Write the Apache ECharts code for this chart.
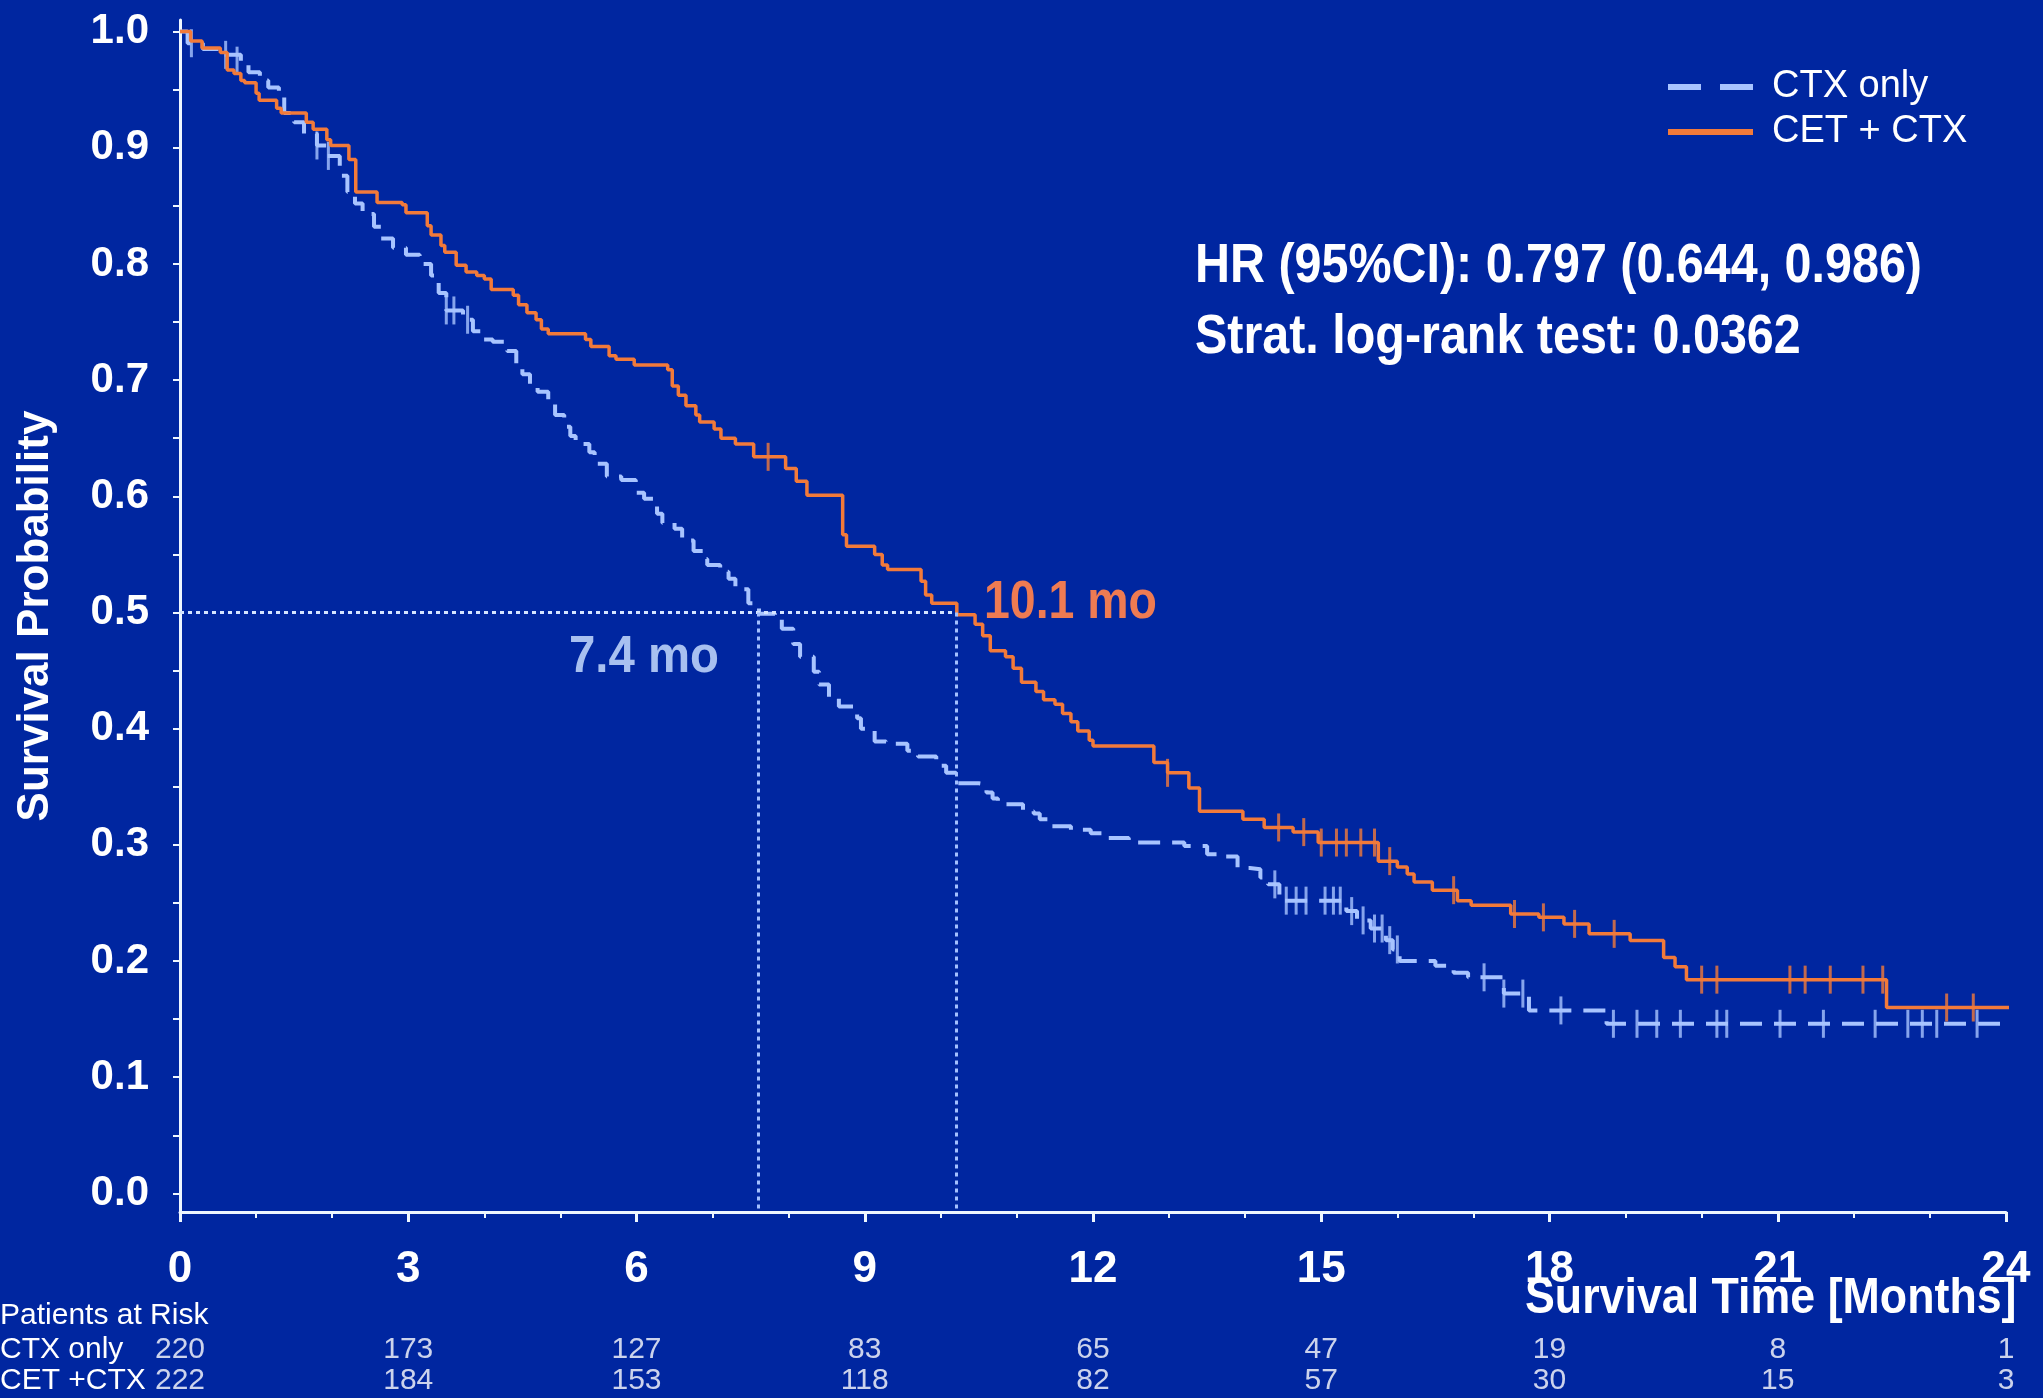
<!DOCTYPE html>
<html>
<head>
<meta charset="utf-8">
<script src="https://cdn.jsdelivr.net/npm/echarts@6/dist/echarts.min.js"></script>
<style>
html,body{margin:0;padding:0;background:#0026a0;}
#chart{width:2043px;height:1398px;}
</style>
</head>
<body>
<div id="chart"></div>
<script>
// ---------- data ----------
const xTickValues = [0, 3, 6, 9, 12, 15, 18, 21, 24];
const yTickValues = [0, 0.1, 0.2, 0.3, 0.4, 0.5, 0.6, 0.7, 0.8, 0.9, 1.0];
const yMinorTickValues = [0.05, 0.15, 0.25, 0.35, 0.45, 0.55, 0.65, 0.75, 0.85, 0.95];

const seriesNames = ['CTX only', 'CET + CTX'];

// [month, survival probability after the step]
const ctxOnlySteps = [
  [0,1.0],[0.1,0.99],[0.3,0.985],[0.57,0.98],[0.8,0.972],[0.9,0.965],[1.05,0.958],[1.16,0.952],
  [1.3,0.945],[1.37,0.93],[1.5,0.922],[1.63,0.912],[1.8,0.902],[1.93,0.893],[2.1,0.876],[2.2,0.862],
  [2.3,0.852],[2.4,0.843],[2.55,0.832],[2.64,0.822],[2.8,0.814],[2.97,0.808],[3.15,0.8],[3.3,0.79],
  [3.4,0.775],[3.5,0.76],[3.72,0.752],[3.85,0.742],[3.97,0.735],[4.11,0.733],[4.3,0.725],[4.42,0.713],
  [4.5,0.705],[4.6,0.697],[4.7,0.69],[4.84,0.68],[4.93,0.67],[5.05,0.66],[5.13,0.652],[5.2,0.645],
  [5.38,0.638],[5.45,0.628],[5.61,0.617],[5.8,0.614],[5.99,0.603],[6.1,0.598],[6.27,0.585],[6.34,0.577],
  [6.5,0.572],[6.6,0.562],[6.75,0.553],[6.88,0.546],[6.93,0.541],[7.1,0.535],[7.21,0.529],[7.3,0.52],
  [7.47,0.508],[7.61,0.499],[7.82,0.494],[7.91,0.486],[8.06,0.473],[8.15,0.462],[8.33,0.449],[8.4,0.438],
  [8.53,0.426],[8.66,0.419],[8.9,0.409],[8.95,0.4],[9.13,0.389],[9.28,0.387],[9.56,0.381],[9.7,0.376],
  [9.94,0.368],[10.07,0.362],[10.2,0.353],[10.5,0.352],[10.6,0.345],[10.68,0.34],[10.75,0.335],[11.08,0.329],
  [11.22,0.327],[11.3,0.322],[11.46,0.316],[11.71,0.313],[11.97,0.31],[12.12,0.306],[12.47,0.302],[13.2,0.299],
  [13.5,0.292],[13.7,0.29],[13.9,0.28],[14.06,0.279],[14.2,0.272],[14.3,0.266],[14.45,0.252],[15.33,0.243],
  [15.47,0.235],[15.65,0.228],[15.85,0.218],[15.94,0.21],[16.03,0.2],[16.5,0.196],[16.74,0.19],[16.93,0.186],
  [17.4,0.172],[17.73,0.1575],[18.75,0.146],[24.1,0.146]
];
const cetCtxSteps = [
  [0,1.0],[0.14,0.992],[0.29,0.986],[0.53,0.982],[0.62,0.967],[0.71,0.964],[0.8,0.958],[0.85,0.956],
  [1.0,0.947],[1.04,0.941],[1.27,0.934],[1.33,0.93],[1.66,0.922],[1.75,0.916],[1.93,0.907],[1.98,0.902],
  [2.22,0.89],[2.31,0.862],[2.59,0.853],[2.92,0.851],[2.97,0.844],[3.25,0.833],[3.3,0.825],[3.43,0.816],
  [3.48,0.81],[3.63,0.799],[3.76,0.793],[3.9,0.79],[4.0,0.787],[4.09,0.778],[4.38,0.773],[4.45,0.765],
  [4.56,0.758],[4.68,0.752],[4.75,0.744],[4.84,0.74],[5.33,0.735],[5.4,0.729],[5.64,0.721],[5.73,0.718],
  [5.97,0.713],[6.41,0.709],[6.47,0.695],[6.55,0.687],[6.65,0.678],[6.78,0.67],[6.83,0.664],[7.02,0.658],
  [7.11,0.65],[7.3,0.645],[7.54,0.634],[7.96,0.624],[8.1,0.613],[8.24,0.601],[8.71,0.567],[8.76,0.557],
  [9.13,0.55],[9.23,0.541],[9.3,0.537],[9.74,0.527],[9.8,0.515],[9.88,0.508],[10.21,0.498],[10.45,0.49],
  [10.55,0.48],[10.65,0.467],[10.85,0.462],[10.95,0.452],[11.06,0.44],[11.25,0.432],[11.35,0.425],[11.5,0.421],
  [11.6,0.413],[11.71,0.406],[11.8,0.398],[11.95,0.39],[12.0,0.385],[12.8,0.371],[12.98,0.362],[13.26,0.349],
  [13.4,0.329],[13.97,0.322],[14.25,0.315],[14.63,0.311],[14.96,0.302],[15.75,0.286],[16.0,0.281],[16.13,0.275],
  [16.22,0.268],[16.46,0.261],[16.79,0.252],[16.97,0.248],[17.49,0.2405],[17.86,0.2376],[18.19,0.232],[18.52,0.2234],
  [19.06,0.2176],[19.5,0.203],[19.65,0.195],[19.8,0.184],[22.43,0.16],[24.14,0.16]
];
// censored observations [month, survival]
const ctxOnlyCensor = [
  [0.15,0.99],[0.6,0.98],[0.75,0.975],[1.8,0.902],[1.95,0.893],[3.5,0.76],[3.6,0.76],[3.78,0.752],
  [14.39,0.266],[14.54,0.252],[14.67,0.252],[14.8,0.252],[15.05,0.252],[15.16,0.252],[15.25,0.252],[15.4,0.243],
  [15.55,0.235],[15.7,0.228],[15.8,0.228],[15.9,0.218],[16.0,0.21],[17.14,0.186],[17.4,0.172],[17.65,0.172],
  [18.15,0.1575],[18.84,0.146],[19.15,0.146],[19.41,0.146],[19.72,0.146],[20.2,0.146],[20.33,0.146],[21.03,0.146],
  [21.6,0.146],[22.28,0.146],[22.71,0.146],[22.9,0.146],[23.09,0.146],[23.62,0.146],[24.1,0.146]
];
const cetCtxCensor = [
  [7.73,0.634],[12.98,0.362],[14.44,0.315],[14.77,0.311],[15.0,0.302],[15.2,0.302],[15.33,0.302],[15.52,0.302],
  [15.7,0.302],[15.9,0.286],[16.74,0.261],[17.54,0.2405],[17.92,0.2376],[18.33,0.232],[18.85,0.2234],
  [20.0,0.184],[20.2,0.184],[21.16,0.184],[21.36,0.184],[21.69,0.184],[22.12,0.184],[22.38,0.184],
  [23.22,0.16],[23.57,0.16],[24.1,0.16]
];
// median reference lines (drawn positions) and their labels
const medianTimes = [7.6, 10.2];
const medianLabels = ['7.4 mo', '10.1 mo'];
const medianLevel = 0.5;

// patients at risk
const atRiskTimes = [0, 3, 6, 9, 12, 15, 18, 21, 24];
const atRiskRows = ['CTX only', 'CET +CTX'];
const atRiskCtxOnly = [220, 173, 127, 83, 65, 47, 19, 8, 1];
const atRiskCetCtx = [222, 184, 153, 118, 82, 57, 30, 15, 3];

const hrText = 'HR (95%CI): 0.797 (0.644, 0.986)';
const pText = 'Strat. log-rank test: 0.0362';

// ---------- styling ----------
const FONT = "'Liberation Sans',Arial,sans-serif";
const BG = '#0026a0';
const AXIS = '#eef6ff';
const BLUE = '#a8c4ff';
const ORANGE = '#f27a3a';
const Y_MIN = -0.016;

const atRiskData = [];
atRiskTimes.forEach((t, i) => {
  atRiskData.push([t, atRiskRows[0], atRiskCtxOnly[i]]);
  atRiskData.push([t, atRiskRows[1], atRiskCetCtx[i]]);
});

const chart = echarts.init(document.getElementById('chart'), null, {renderer: 'canvas'});
const option = {
  backgroundColor: BG,
  animation: false,
  textStyle: {fontFamily: FONT},
  grid: [
    {left: 180, right: 37, top: 20, bottom: 186, outerBoundsMode: 'none', containLabel: false},
    {left: 180, right: 37, top: 1334, height: 62, outerBoundsMode: 'none', containLabel: false}
  ],
  legend: {
    data: [
      {name: seriesNames[0], itemStyle: {opacity: 0}, lineStyle: {color: BLUE, width: 6, type: [33, 19]}},
      {name: seriesNames[1], itemStyle: {opacity: 0}, lineStyle: {color: ORANGE, width: 6, type: 'solid'}}
    ],
    orient: 'vertical',
    left: 1660,
    top: 62,
    itemWidth: 85,
    itemHeight: 20,
    itemGap: 5,
    itemStyle: {opacity: 0},
    textStyle: {color: '#ffffff', fontSize: 38, lineHeight: 40, fontFamily: FONT, padding: [0, 0, 0, 14]}
  },
  xAxis: [
    {
      gridIndex: 0, type: 'value', min: 0, max: 24, interval: 3,
      axisLine: {show: true, onZero: false, lineStyle: {color: AXIS, width: 3}},
      axisTick: {show: true, length: 10, lineStyle: {color: AXIS, width: 3}},
      minorTick: {show: true, splitNumber: 3, length: 6, lineStyle: {color: AXIS, width: 2}},
      splitLine: {show: false},
      axisLabel: {margin: 36, fontSize: 44, fontWeight: 'bold', color: '#ffffff', fontFamily: FONT}
    },
    {gridIndex: 1, type: 'value', min: 0, max: 24, show: false}
  ],
  yAxis: [
    {
      gridIndex: 0, type: 'value', min: Y_MIN, max: 1.01,
      axisLine: {show: true, lineStyle: {color: AXIS, width: 3}},
      axisTick: {show: true, length: 7, lineStyle: {color: AXIS, width: 2},
        customValues: yTickValues.concat(yMinorTickValues)},
      splitLine: {show: false},
      axisLabel: {margin: 31, fontSize: 42, fontWeight: 'bold', color: '#ffffff', fontFamily: FONT,
        customValues: yTickValues, formatter: v => v.toFixed(1)},
      name: 'Survival Probability', nameLocation: 'middle', nameGap: 122, nameRotate: 90,
      nameTextStyle: {color: '#ffffff', fontSize: 44, fontWeight: 'bold', fontFamily: FONT}
    },
    {
      gridIndex: 1, type: 'category', data: atRiskRows, inverse: true,
      axisLine: {show: false}, axisTick: {show: false}, splitLine: {show: false},
      axisLabel: {interval: 0, align: 'left', margin: 180, color: '#ffffff', fontSize: 30, fontFamily: FONT}
    }
  ],
  series: [
    {
      name: seriesNames[0], type: 'line', step: 'end', data: ctxOnlySteps,
      symbol: 'none', showSymbol: false, z: 3,
      lineStyle: {color: BLUE, width: 4, type: [22, 12]},
      itemStyle: {color: BLUE},
      markLine: {
        silent: true, symbol: 'none', label: {show: false},
        lineStyle: {color: '#d4e4ff', width: 3, type: [4, 4]},
        data: [
          [{coord: [0, medianLevel]}, {coord: [medianTimes[1], medianLevel]}],
          [{coord: [medianTimes[0], medianLevel], lineStyle: {color: '#a4c0ff'}}, {coord: [medianTimes[0], Y_MIN]}],
          [{coord: [medianTimes[1], medianLevel], lineStyle: {color: '#a4c0ff'}}, {coord: [medianTimes[1], Y_MIN]}]
        ]
      }
    },
    {
      name: seriesNames[1], type: 'line', step: 'end', data: cetCtxSteps,
      symbol: 'none', showSymbol: false, z: 4,
      lineStyle: {color: ORANGE, width: 3.5},
      itemStyle: {color: ORANGE}
    },
    {
      name: 'CTX only censored', type: 'scatter', data: ctxOnlyCensor,
      symbol: 'rect', symbolSize: [3, 28], itemStyle: {color: BLUE}, z: 3
    },
    {
      name: 'CET + CTX censored', type: 'scatter', data: cetCtxCensor,
      symbol: 'rect', symbolSize: [3, 28], itemStyle: {color: ORANGE}, z: 4
    },
    {
      name: 'at risk', type: 'scatter', xAxisIndex: 1, yAxisIndex: 1, data: atRiskData,
      symbolSize: 1, itemStyle: {color: 'rgba(0,0,0,0)'},
      label: {show: true, position: 'inside', formatter: p => String(p.value[2]),
        color: '#ffffff', fontSize: 30, fontFamily: FONT}
    }
  ],
  graphic: [
    {type: 'text', left: 1195, top: 239, scaleX: 0.865, style: {text: hrText, fill: '#ffffff', font: "bold 56px " + FONT}},
    {type: 'text', left: 1195, top: 310, scaleX: 0.865, style: {text: pText, fill: '#ffffff', font: "bold 56px " + FONT}},
    {type: 'text', left: 569, top: 632, scaleX: 0.91, style: {text: medianLabels[0], fill: '#a8c0f0', font: "bold 52px " + FONT}},
    {type: 'text', left: 984, top: 576, scaleX: 0.86, style: {text: medianLabels[1], fill: '#ee7b52', font: "bold 54px " + FONT}},
    {type: 'text', left: 1525, top: 1274, scaleX: 0.895, style: {text: 'Survival Time [Months]', fill: '#ffffff', font: "bold 50px " + FONT}},
    {type: 'text', left: 0, top: 1301, style: {text: 'Patients at Risk', fill: '#ffffff', font: "30px " + FONT}}
  ]
};
chart.setOption(option);
</script>
</body>
</html>
